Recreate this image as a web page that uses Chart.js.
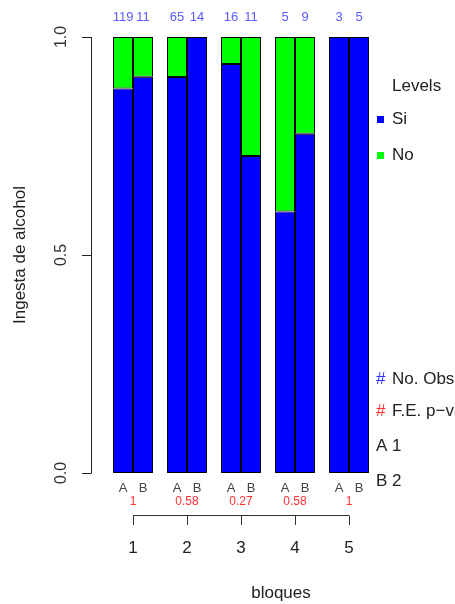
<!DOCTYPE html>
<html>
<head>
<meta charset="utf-8">
<script src="https://cdn.jsdelivr.net/npm/chart.js@4"></script>
<style>
  html, body { margin: 0; padding: 0; background: #fff; }
  #chart { display: block; }
</style>
</head>
<body>
<canvas id="chart" width="455" height="604"></canvas>
<script>
// bloques and the two sub groups
const bloques = ['1', '2', '3', '4', '5'];
const subGroups = ['A', 'B'];

// proportion of each level per sub group
const siA = [0.882, 0.908, 0.938, 0.600, 1.000];
const noA = [0.118, 0.092, 0.062, 0.400, 0.000];
const siB = [0.909, 1.000, 0.727, 0.778, 1.000];
const noB = [0.091, 0.000, 0.273, 0.222, 0.000];

// number of observations and Fisher exact p-values
const obsA = [119, 65, 16, 5, 3];
const obsB = [11, 14, 11, 9, 5];
const pValues = ['1', '0.58', '0.27', '0.58', '1'];

const yTicks = [0, 0.5, 1];

const BLUE = '#0000ff';
const GREEN = '#00ff00';

// Draws the R style axes, annotations and legend around the bars
const annotations = {
    id: 'annotations',
    afterDraw(chart) {
        const ctx = chart.ctx;
        const x = chart.scales.x;
        const y = chart.scales.y;
        const area = chart.chartArea;
        const axisX = area.left - 15;
        const font = 'Liberation Sans, Arial, sans-serif';

        ctx.save();
        ctx.strokeStyle = '#222';
        ctx.lineWidth = 1;

        // y axis
        ctx.beginPath();
        ctx.moveTo(axisX + 0.5, y.getPixelForValue(0));
        ctx.lineTo(axisX + 0.5, y.getPixelForValue(1));
        yTicks.forEach(t => {
            const py = Math.round(y.getPixelForValue(t)) + 0.5;
            ctx.moveTo(axisX - 9, py);
            ctx.lineTo(axisX + 0.5, py);
        });
        ctx.stroke();

        ctx.fillStyle = '#333';
        ctx.font = '16px ' + font;
        ctx.textAlign = 'center';
        ctx.textBaseline = 'middle';
        yTicks.forEach(t => {
            ctx.save();
            ctx.translate(62, y.getPixelForValue(t));
            ctx.rotate(-Math.PI / 2);
            ctx.fillText(t.toFixed(1), 0, 0);
            ctx.restore();
        });

        ctx.save();
        ctx.fillStyle = '#222';
        ctx.font = '17px ' + font;
        ctx.translate(20, (y.getPixelForValue(0) + y.getPixelForValue(1)) / 2);
        ctx.rotate(-Math.PI / 2);
        ctx.fillText('Ingesta de alcohol', 0, 0);
        ctx.restore();

        // per bar labels
        const meta = [chart.getDatasetMeta(0), chart.getDatasetMeta(2)];
        const obs = [obsA, obsB];
        bloques.forEach((b, i) => {
            const cx = x.getPixelForValue(i);
            meta.forEach((m, k) => {
                const bx = m.data[i].x;
                ctx.fillStyle = '#5a5aff';
                ctx.font = '13px ' + font;
                ctx.fillText(String(obs[k][i]), bx, 17);
                ctx.fillStyle = '#444';
                ctx.fillText(subGroups[k], bx, 488);
            });
            ctx.fillStyle = '#ff3030';
            ctx.font = '12px ' + font;
            ctx.fillText(pValues[i], cx, 502);
            ctx.fillStyle = '#222';
            ctx.font = '17px ' + font;
            ctx.fillText(b, cx, 548);
        });

        // bracket under the groups
        const first = x.getPixelForValue(0);
        const last = x.getPixelForValue(bloques.length - 1);
        ctx.strokeStyle = '#333';
        ctx.beginPath();
        ctx.moveTo(first, 515.5);
        ctx.lineTo(last, 515.5);
        bloques.forEach((b, i) => {
            const px = Math.round(x.getPixelForValue(i)) + 0.5;
            ctx.moveTo(px, 515.5);
            ctx.lineTo(px, 525);
        });
        ctx.stroke();

        ctx.font = '17px ' + font;
        ctx.fillStyle = '#222';
        ctx.fillText('bloques', 281, 593);

        // legend on the right
        ctx.textAlign = 'left';
        ctx.font = '17px ' + font;
        ctx.fillStyle = '#222';
        ctx.fillText('Levels', 392, 86);
        [['Si', BLUE, 119], ['No', GREEN, 155]].forEach(([label, col, py]) => {
            ctx.fillStyle = col;
            ctx.fillRect(377, py - 3, 7, 7);
            ctx.fillStyle = '#222';
            ctx.fillText(label, 392, py);
        });

        ctx.fillStyle = '#3030ff';
        ctx.fillText('#', 376, 379);
        ctx.fillStyle = '#222';
        ctx.fillText('No. Obs', 392, 379);
        ctx.fillStyle = '#ff3030';
        ctx.fillText('#', 376, 411);
        ctx.fillStyle = '#222';
        ctx.fillText('F.E. p\u2212value', 392, 411);
        ctx.fillText('A 1', 376, 446);
        ctx.fillText('B 2', 376, 481);
        ctx.restore();
    }
};

const barStyle = {
    borderColor: '#000',
    borderWidth: 1,
    borderSkipped: false,
    barPercentage: 1,
    categoryPercentage: 0.74
};

new Chart(document.getElementById('chart').getContext('2d'), {
    type: 'bar',
    data: {
        labels: bloques,
        datasets: [
            { label: 'Si', data: siA, stack: 'A', backgroundColor: BLUE, ...barStyle },
            { label: 'No', data: noA, stack: 'A', backgroundColor: GREEN, ...barStyle },
            { label: 'Si', data: siB, stack: 'B', backgroundColor: BLUE, ...barStyle },
            { label: 'No', data: noB, stack: 'B', backgroundColor: GREEN, ...barStyle }
        ]
    },
    options: {
        responsive: false,
        animation: false,
        layout: {
            padding: { left: 106, right: 79, top: 37, bottom: 131 }
        },
        scales: {
            x: { stacked: true, display: false },
            y: { stacked: true, display: false, min: 0, max: 1 }
        },
        plugins: {
            legend: { display: false },
            tooltip: { enabled: false }
        }
    },
    plugins: [annotations]
});
</script>
</body>
</html>
